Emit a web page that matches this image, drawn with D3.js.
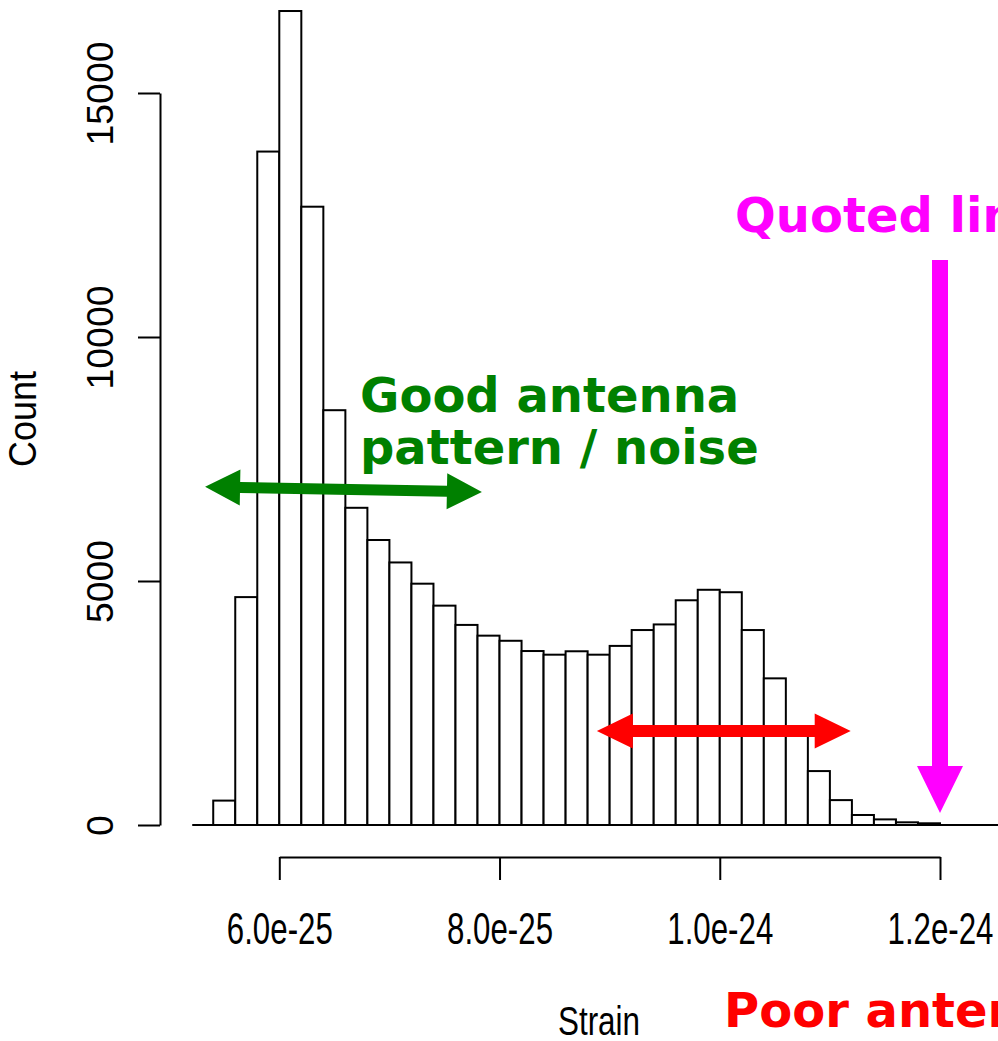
<!DOCTYPE html>
<html>
<head>
<meta charset="utf-8">
<script src="https://cdn.jsdelivr.net/npm/d3@7"></script>
<style>
  html, body { margin: 0; padding: 0; background: #fff; overflow: hidden; }
  svg { display: block; }
</style>
</head>
<body>
<div id="chart"></div>
<script>
// bin edges (strain) and counts
const binEdges = [
    5.4e-25, 5.6e-25, 5.8e-25, 6.0e-25, 6.2e-25, 6.4e-25, 6.6e-25, 6.8e-25,
    7.0e-25, 7.2e-25, 7.4e-25, 7.6e-25, 7.8e-25, 8.0e-25, 8.2e-25, 8.4e-25,
    8.6e-25, 8.8e-25, 9.0e-25, 9.2e-25, 9.4e-25, 9.6e-25, 9.8e-25, 1.0e-24,
    1.02e-24, 1.04e-24, 1.06e-24, 1.08e-24, 1.10e-24, 1.12e-24, 1.14e-24,
    1.16e-24, 1.18e-24, 1.20e-24
];
const counts = [
    500, 4670, 13800, 16680, 12670, 8500, 6500, 5840,
    5380, 4945, 4495, 4100, 3880, 3775, 3565, 3490,
    3560, 3490, 3670, 3995, 4110, 4605, 4820, 4770,
    3995, 3005, 1950, 1105, 510, 205, 115, 55, 35
];

const xTicks = [6.0e-25, 8.0e-25, 1.0e-24, 1.2e-24];
const xTickLabels = ['6.0e-25', '8.0e-25', '1.0e-24', '1.2e-24'];
const yTicks = [0, 5000, 10000, 15000];

// annotation arrows, in data units: [x1, y1] -> [x2, y2]
const greenArrow = [[5.326e-25, 6930], [7.84e-25, 6825]];
const redArrow = [[8.884e-25, 1926], [1.1189e-24, 1926]];
const magentaArrow = [[1.2e-24, 11580], [1.2e-24, 246]];

const width = 998, height = 1041;

const svg = d3.select('#chart').append('svg')
    .attr('width', width)
    .attr('height', height)
    .style('background', '#fff');

const x = d3.scaleLinear().domain([6.0e-25, 1.2e-24]).range([279.3, 940]);
const y = d3.scaleLinear().domain([0, 15000]).range([825, 93]);

const axisFont = "'Liberation Sans Narrow', 'Liberation Sans', Arial, sans-serif";

// bars
svg.append('g')
    .selectAll('rect')
    .data(counts)
    .join('rect')
    .attr('x', (d, i) => x(binEdges[i]))
    .attr('width', (d, i) => x(binEdges[i + 1]) - x(binEdges[i]))
    .attr('y', d => y(d))
    .attr('height', d => y(0) - y(d))
    .attr('fill', '#fff')
    .attr('stroke', '#000')
    .attr('stroke-width', 2);

// zero line under the histogram
svg.append('line')
    .attr('x1', x(binEdges[0]) - 21)
    .attr('x2', width)
    .attr('y1', y(0))
    .attr('y2', y(0))
    .attr('stroke', '#000')
    .attr('stroke-width', 2);

// y axis
const yAxis = svg.append('g')
    .attr('transform', 'translate(160,0)')
    .call(d3.axisLeft(y).tickValues(yTicks).tickSize(22).tickSizeOuter(0).tickFormat(d3.format('d')));
yAxis.selectAll('path, line').attr('stroke', '#000').attr('stroke-width', 2);
yAxis.selectAll('text')
    .attr('transform', 'rotate(-90)')
    .attr('x', 0)
    .attr('y', -47.3)
    .attr('dy', 0)
    .attr('text-anchor', 'middle')
    .attr('fill', '#000')
    .style('font-family', axisFont)
    .style('font-size', '37px')
    .attr('textLength', d => String(d).length * 20.8)
    .attr('lengthAdjust', 'spacingAndGlyphs');

// x axis
const xAxis = svg.append('g')
    .attr('transform', 'translate(0,857)')
    .call(d3.axisBottom(x).tickValues(xTicks).tickSize(23).tickSizeOuter(0)
        .tickFormat((d, i) => xTickLabels[i]));
xAxis.selectAll('path, line').attr('stroke', '#000').attr('stroke-width', 2);
xAxis.selectAll('text')
    .attr('y', 87)
    .attr('dy', 0)
    .attr('fill', '#000')
    .style('font-family', axisFont)
    .style('font-size', '44px')
    .attr('textLength', 106)
    .attr('lengthAdjust', 'spacingAndGlyphs');

// axis titles
svg.append('text')
    .attr('transform', 'translate(36,419) rotate(-90)')
    .attr('text-anchor', 'middle')
    .style('font-family', axisFont)
    .style('font-size', '38px')
    .attr('textLength', 96)
    .attr('lengthAdjust', 'spacingAndGlyphs')
    .text('Count');

svg.append('text')
    .attr('x', 599)
    .attr('y', 1035)
    .attr('text-anchor', 'middle')
    .style('font-family', axisFont)
    .style('font-size', '40px')
    .attr('textLength', 82)
    .attr('lengthAdjust', 'spacingAndGlyphs')
    .text('Strain');

// arrow polygon: tips at one or both ends
function arrowPath(p1, p2, shaft, headLen, headHalf, twoHeads) {
    const x1 = x(p1[0]), y1 = y(p1[1]), x2 = x(p2[0]), y2 = y(p2[1]);
    const len = Math.hypot(x2 - x1, y2 - y1);
    const ux = (x2 - x1) / len, uy = (y2 - y1) / len;
    const nx = -uy, ny = ux;
    const pt = (t, s) => [x1 + ux * t + nx * s, y1 + uy * t + ny * s];
    const a = twoHeads ? headLen : 0;
    const b = len - headLen;
    let pts = [];
    if (twoHeads) {
        pts.push(pt(0, 0), pt(a, -headHalf), pt(a, -shaft));
    } else {
        pts.push(pt(0, -shaft));
    }
    pts.push(pt(b, -shaft), pt(b, -headHalf), pt(len, 0), pt(b, headHalf), pt(b, shaft));
    if (twoHeads) {
        pts.push(pt(a, shaft), pt(a, headHalf));
    } else {
        pts.push(pt(0, shaft));
    }
    return 'M' + pts.map(p => p.join(',')).join('L') + 'Z';
}

svg.append('path')
    .attr('d', arrowPath(greenArrow[0], greenArrow[1], 5.5, 35, 18, true))
    .attr('fill', '#008000');

svg.append('path')
    .attr('d', arrowPath(redArrow[0], redArrow[1], 6, 36, 17.5, true))
    .attr('fill', '#ff0000');

svg.append('path')
    .attr('d', arrowPath(magentaArrow[0], magentaArrow[1], 8, 47, 23, false))
    .attr('fill', '#ff00ff');

// annotation labels
const noteFont = "'DejaVu Sans', Verdana, sans-serif";
const good = svg.append('text')
    .attr('x', 360)
    .attr('y', 412)
    .attr('fill', '#008000')
    .style('font-family', noteFont)
    .style('font-weight', 'bold')
    .style('font-size', '48px');
good.append('tspan').attr('x', 360).text('Good antenna');
good.append('tspan').attr('x', 360).attr('dy', 52).text('pattern / noise');

svg.append('text')
    .attr('x', 735)
    .attr('y', 232)
    .attr('fill', '#ff00ff')
    .style('font-family', noteFont)
    .style('font-weight', 'bold')
    .style('font-size', '48px')
    .text('Quoted limit');

svg.append('text')
    .attr('x', 724)
    .attr('y', 1027)
    .attr('fill', '#ff0000')
    .style('font-family', noteFont)
    .style('font-weight', 'bold')
    .style('font-size', '48px')
    .text('Poor antenna pattern / noise');
</script>
</body>
</html>
